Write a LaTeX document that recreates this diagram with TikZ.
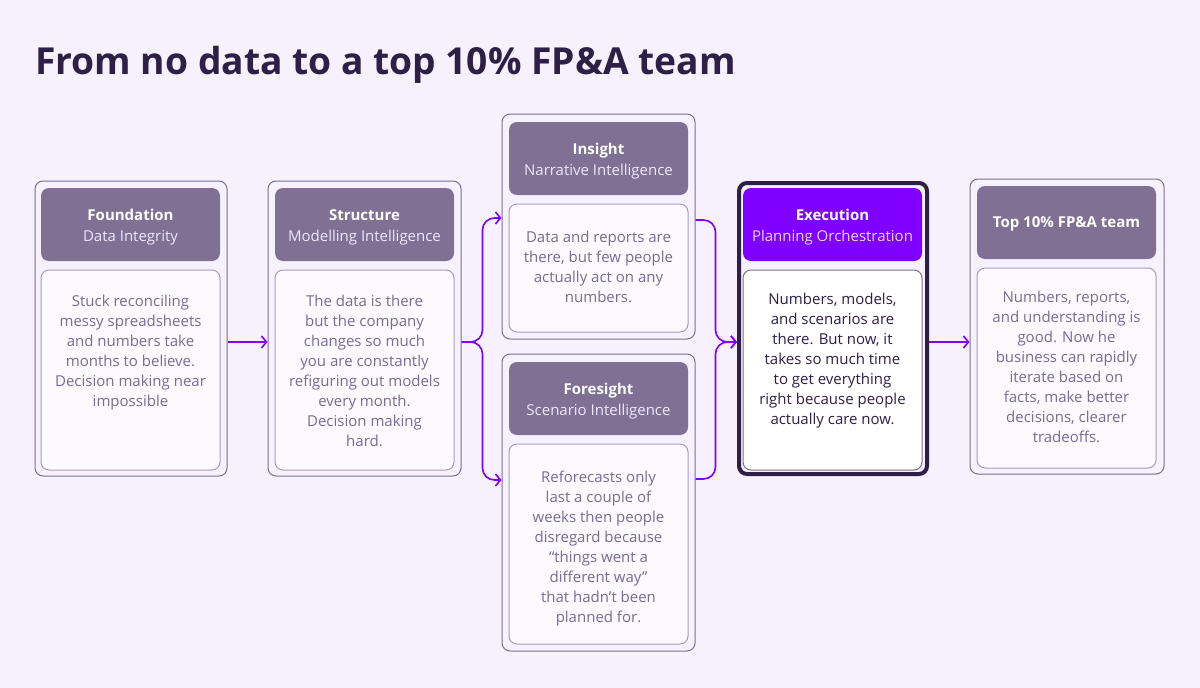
\documentclass[tikz,border=0pt]{standalone}
\usepackage{fontspec}
\setmainfont{Open Sans}
\usetikzlibrary{arrows.meta}
\definecolor{bg}{HTML}{F6F1FD}
\definecolor{titlec}{HTML}{2E1F47}
\definecolor{edge}{HTML}{7D6E92}
\definecolor{headc}{HTML}{7F7094}
\definecolor{bodyfill}{HTML}{FCFAFF}
\definecolor{bodyedge}{HTML}{A99BBB}
\definecolor{bodytxt}{HTML}{7A6B90}
\definecolor{subtxt}{HTML}{EFE6FA}
\definecolor{accent}{HTML}{7F00FF}
\definecolor{accentsub}{HTML}{E8D6FF}
\tikzset{
  outerbox/.style={draw=edge, line width=1pt, rounded corners=8pt, inner sep=0pt},
  headbox/.style={fill=headc, rounded corners=8pt, inner sep=0pt, minimum width=179pt, minimum height=73pt},
  headtext/.style={align=center, inner sep=0pt, text=white, font=\fontsize{15}{21}\selectfont, yshift=-3pt},
  bodybox/.style={draw=bodyedge, fill=bodyfill, line width=1pt, rounded corners=8pt, inner sep=0pt, minimum width=179pt},
  bodytext/.style={anchor=north, align=center, inner sep=0pt, text=bodytxt, font=\fontsize{15}{20}\selectfont},
  conn/.style={draw=accent, line width=1.6pt, rounded corners=12pt, -{Straight Barb[length=5pt,width=12pt,line width=1.6pt]}}
}
\begin{document}
\begin{tikzpicture}[x=1pt,y=-1pt]
\path[use as bounding box, fill=bg] (0,0) rectangle (1200,688);

\node[anchor=base west, inner sep=0pt, text=titlec, font=\fontsize{37.2}{44}\selectfont\bfseries] (title) at (35,74) {From no data to a top 10\% FP\&A team};

% Card 1
\node[outerbox, minimum width=192pt, minimum height=295pt] (c1) at (131,328.5) {};
\node[headbox] (h1) at (130.5,224.5) {};
\node[headtext] (ht1) at (h1) {{\bfseries Foundation}\\{\color{subtxt}Data Integrity}};
\node[bodybox, minimum height=200pt] (b1) at (130.5,370) {};
\node[bodytext] (t1) at (130.5,295) {Stuck reconciling\\messy spreadsheets\\and numbers take\\months to believe.\\Decision making near\\impossible};

% Card 2
\node[outerbox, minimum width=193pt, minimum height=295pt] (c2) at (364.5,328.5) {};
\node[headbox] (h2) at (364.5,224.5) {};
\node[headtext] (ht2) at (h2) {{\bfseries Structure}\\{\color{subtxt}Modelling Intelligence}};
\node[bodybox, minimum height=200pt] (b2) at (364.5,370) {};
\node[bodytext] (t2) at (364.5,295) {The data is there\\but the company\\changes so much\\you are constantly\\refiguring out models\\every month.\\Decision making\\hard.};

% Insight
\node[outerbox, minimum width=193pt, minimum height=225pt] (c3) at (598.5,226.5) {};
\node[headbox] (h3) at (598.5,158.5) {};
\node[headtext] (ht3) at (h3) {{\bfseries Insight}\\{\color{subtxt}Narrative Intelligence}};
\node[bodybox, minimum height=128pt] (b3) at (598.5,268) {};
\node[bodytext] (t3) at (598.5,231) {Data and reports are\\there, but few people\\actually act on any\\numbers.};

% Foresight
\node[outerbox, minimum width=193pt, minimum height=297pt] (c4) at (598.5,502.5) {};
\node[headbox] (h4) at (598.5,398.5) {};
\node[headtext] (ht4) at (h4) {{\bfseries Foresight}\\{\color{subtxt}Scenario Intelligence}};
\node[bodybox, minimum height=200pt] (b4) at (598.5,544) {};
\node[bodytext] (t4) at (598.5,471) {Reforecasts only\\last a couple of\\weeks then people\\disregard because\\“things went a\\different way”\\that hadn’t been\\planned for.};

% Execution
\node[outerbox, draw=titlec, line width=4pt, minimum width=188pt, minimum height=291pt] (c5) at (833,328.5) {};
\node[headbox, fill=accent] (h5) at (832.5,224.5) {};
\node[headtext] (ht5) at (h5) {{\bfseries Execution}\\{\color{accentsub}Planning Orchestration}};
\node[bodybox, fill=white, draw=edge, minimum height=200pt] (b5) at (832.5,370) {};
\node[bodytext, text=titlec] (t5) at (832.5,293) {Numbers, models,\\and scenarios are\\there. But now, it\\takes so much time\\to get everything\\right because people\\actually care now.};

% Top 10%
\node[outerbox, minimum width=194pt, minimum height=295pt] (c6) at (1067,326.5) {};
\node[headbox] (h6) at (1066.5,222.5) {};
\node[headtext, yshift=2pt] (ht6) at (h6) {\bfseries Top 10\% FP\&A team};
\node[bodybox, minimum height=200pt] (b6) at (1066.5,368) {};
\node[bodytext] (t6) at (1066.5,291) {Numbers, reports,\\and understanding is\\good. Now he\\business can rapidly\\iterate based on\\facts, make better\\decisions, clearer\\tradeoffs.};

% Connectors
\draw[conn] ([yshift=-13.5pt]c1.east) -- ([yshift=-13.5pt]c2.west);
\draw[conn] ([yshift=-13.5pt]c2.east) -- ++(21,0) |- ([yshift=8.5pt]c3.west);
\draw[conn] ([yshift=-13.5pt]c2.east) -- ++(21,0) |- ([yshift=22.5pt]c4.west);
\draw[conn] ([yshift=6.5pt]c3.east) -- ++(20,0) |- ([yshift=-13.5pt]c5.west);
\draw[conn] ([yshift=23.5pt]c4.east) -- ++(20,0) |- ([yshift=-13.5pt]c5.west);
\draw[conn] ([yshift=-13.5pt]c5.east) -- ([yshift=-15.5pt]c6.west);
\end{tikzpicture}
\end{document}
